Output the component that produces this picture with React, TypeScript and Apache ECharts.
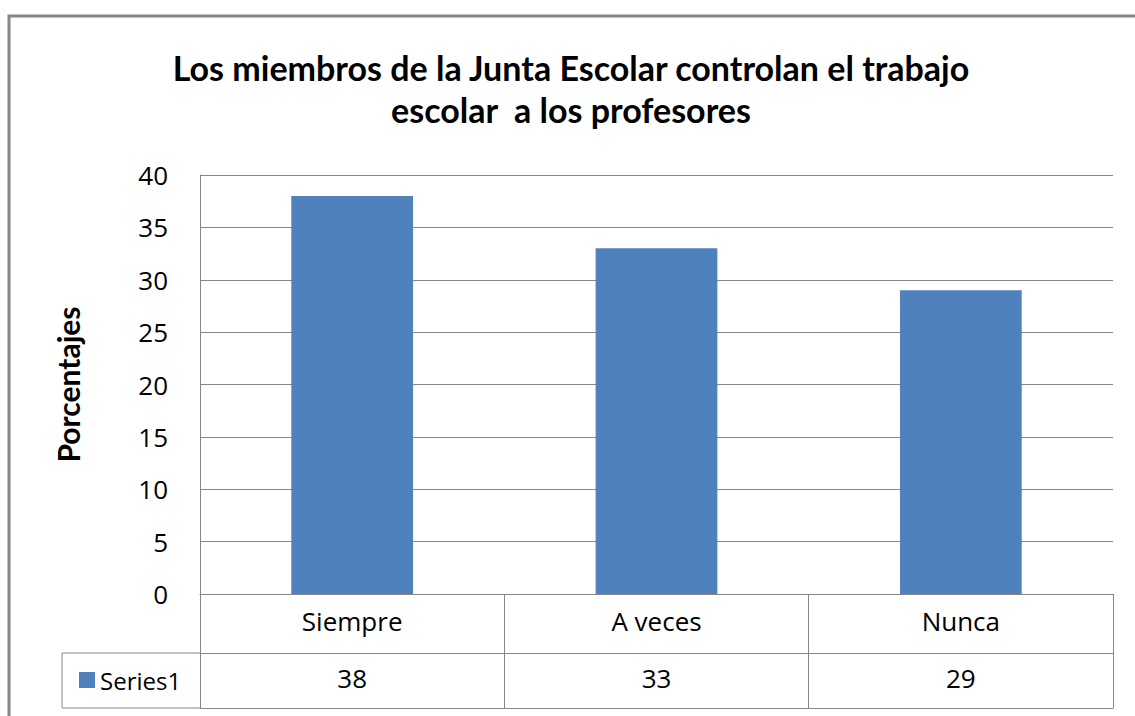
import React, { useEffect, useRef } from "react";
import * as echarts from "echarts";

const titleLines = [
  "Los miembros de la Junta Escolar controlan el trabajo",
  "escolar  a los profesores",
];
const categories = ["Siempre", "A veces", "Nunca"];
const seriesName = "Series1";
const values = [38, 33, 29];
const yAxisName = "Porcentajes";
const yMin = 0;
const yMax = 40;
const yInterval = 5;

const TITLE_FONT = "Lato";
const FONT = "Open Sans";
const GRAY = "#868686";
const BAR = "#4F81BD";

export default function App() {
  const ref = useRef<HTMLDivElement>(null);
  useEffect(() => {
    if (!ref.current) return;
    const chart = echarts.init(ref.current, undefined, { renderer: "svg" });
    const lineStyle = { color: GRAY, width: 1 };
    chart.setOption({
      animation: false,
      backgroundColor: "#fff",
      textStyle: { fontFamily: FONT },
      title: {
        text: titleLines.join("\n"),
        left: 566,
        textAlign: "center",
        top: 41,
        textStyle: {
          fontFamily: TITLE_FONT,
          fontWeight: "bold",
          fontSize: 34,
          lineHeight: 42,
          color: "#000",
        },
      },
      legend: {
        show: true,
        left: 74,
        top: 663,
        icon: "rect",
        itemWidth: 16,
        itemHeight: 16,
        itemGap: 4,
        textStyle: { fontFamily: FONT, fontSize: 24, color: "#000" },
        data: [seriesName],
      },
      grid: { left: 200, right: 22, top: 175, bottom: 122, containLabel: false },
      xAxis: [
        {
          type: "category",
          data: categories,
          position: "bottom",
          axisLine: { show: true, lineStyle },
          axisTick: { show: true, length: 59, lineStyle },
          axisLabel: { margin: 14, fontSize: 26, color: "#000", fontFamily: FONT },
          splitLine: { show: false },
        },
        {
          type: "category",
          data: values.map(String),
          position: "bottom",
          offset: 59,
          axisLine: { show: true, lineStyle },
          axisTick: { show: true, length: 55, lineStyle },
          axisLabel: { margin: 12, fontSize: 26, color: "#000", fontFamily: FONT },
        },
        {
          type: "category",
          data: categories,
          position: "bottom",
          offset: 114,
          axisLine: { show: true, lineStyle },
          axisTick: { show: false },
          axisLabel: { show: false },
        },
      ],
      yAxis: {
        type: "value",
        min: yMin,
        max: yMax,
        interval: yInterval,
        name: yAxisName,
        nameLocation: "middle",
        nameGap: 117,
        nameTextStyle: { fontFamily: TITLE_FONT, fontWeight: "bold", fontSize: 30, color: "#000" },
        axisLine: { show: true, lineStyle },
        axisTick: { show: false },
        axisLabel: { margin: 32, fontSize: 26, color: "#000", fontFamily: FONT },
        splitLine: { show: true, lineStyle },
      },
      series: [
        {
          name: seriesName,
          type: "bar",
          data: values,
          barWidth: "40%",
          itemStyle: { color: BAR },
          xAxisIndex: 0,
        },
      ],
      graphic: [
        {
          type: "rect",
          shape: { x: 9, y: 16, width: 1140, height: 720 },
          style: { fill: "none", stroke: GRAY, lineWidth: 3 },
          silent: true,
        },
        {
          type: "line",
          shape: { x1: 62, y1: 653, x2: 200, y2: 653 },
          style: { stroke: GRAY, lineWidth: 1 },
        },
        {
          type: "line",
          shape: { x1: 62, y1: 708, x2: 200, y2: 708 },
          style: { stroke: GRAY, lineWidth: 1 },
        },
        {
          type: "line",
          shape: { x1: 62, y1: 653, x2: 62, y2: 708 },
          style: { stroke: GRAY, lineWidth: 1 },
        },
      ],
    });
    return () => chart.dispose();
  }, []);
  return (
    <div
      ref={ref}
      style={{ position: "absolute", left: 0, top: 0, width: 1135, height: 716 }}
    />
  );
}
